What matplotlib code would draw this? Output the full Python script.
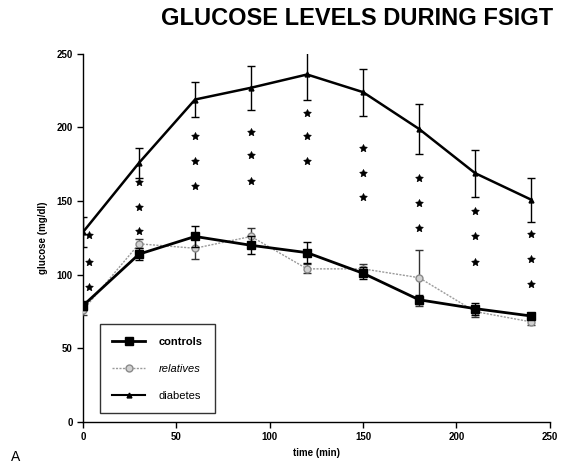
import matplotlib
matplotlib.use("Agg")
import matplotlib.pyplot as plt
from matplotlib.lines import Line2D

plt.rcParams['font.family'] = ['Liberation Sans', 'DejaVu Sans']

time = [0, 30, 60, 90, 120, 150, 180, 210, 240]
controls = [79, 114, 126, 120, 115, 101, 83, 77, 72]
controls_err = [3, 4, 7, 6, 7, 4, 3, 4, 2]
relatives = [76, 121, 118, 126, 104, 104, 98, 75, 68]
relatives_err = [3, 3, 7, 6, 3, 3, 19, 4, 2]
diabetes = [129, 176, 219, 227, 236, 224, 199, 169, 151]
diabetes_err = [10, 10, 12, 15, 17, 16, 17, 16, 15]

star_time = [3, 30, 60, 90, 120, 150, 180, 210, 240]
star_levels = [
    [127, 109, 92],
    [163, 146, 130],
    [194, 177, 160],
    [197, 181, 164],
    [210, 194, 177],
    [186, 169, 153],
    [166, 149, 132],
    [143, 126, 109],
    [128, 111, 94],
]

fig = plt.figure(figsize=(5.61, 4.66), dpi=100)
ax = fig.add_axes([0.148, 0.0944, 0.832, 0.79])

ax.errorbar(time, relatives, yerr=relatives_err, color='#9a9a9a', lw=1.0,
            ls=(0, (1.5, 1)), marker='o', ms=5, mfc='#d0d0d0', mec='#8a8a8a',
            ecolor='#333333', elinewidth=1.0, capsize=3, capthick=1.0, zorder=3)
ax.errorbar(time, controls, yerr=controls_err, color='black', lw=2.0, marker='s',
            ms=5.5, ecolor='black', elinewidth=1.0, capsize=3, capthick=1.0, zorder=4)
ax.errorbar(time, diabetes, yerr=diabetes_err, color='black', lw=1.8, marker='^',
            ms=3.5, ecolor='black', elinewidth=1.0, capsize=3, capthick=1.0, zorder=4)

for t, lv in zip(star_time, star_levels):
    ax.scatter([t] * len(lv), lv, marker=(5, 1, 0), s=34, color='black',
               linewidths=0.4, zorder=5)

ax.set_xlim(0, 250)
ax.set_ylim(0, 250)
ax.set_xticks([0, 50, 100, 150, 200, 250])
ax.set_yticks([0, 50, 100, 150, 200, 250])
for s in ['top', 'right']:
    ax.spines[s].set_visible(False)
for s in ['left', 'bottom']:
    ax.spines[s].set_linewidth(1.0)
ax.tick_params(direction='out', length=4, width=1, labelsize=7)
for lab in ax.get_xticklabels() + ax.get_yticklabels():
    lab.set_fontweight('bold')

ax.set_xlabel('time (min)', fontsize=7, fontweight='bold', labelpad=4)
ax.set_ylabel('glucose (mg/dl)', fontsize=7, fontweight='bold', labelpad=6)

fig.text(0.986, 0.961, 'GLUCOSE LEVELS DURING FSIGT', ha='right', va='center',
         fontsize=17, fontweight='bold')
fig.text(0.02, 0.005, 'A', fontsize=10, ha='left', va='bottom')

handles = [
    Line2D([], [], color='black', lw=2, marker='s', ms=5.5),
    Line2D([], [], color='#9a9a9a', lw=1, ls=(0, (1.5, 1)), marker='o', ms=5,
           mfc='#d0d0d0', mec='#8a8a8a'),
    Line2D([], [], color='black', lw=1.5, marker='^', ms=3.5),
]
leg = ax.legend(handles, ['controls', 'relatives', 'diabetes'],
                loc='lower left', bbox_to_anchor=(0.036, 0.024), frameon=True,
                fancybox=False, edgecolor='black', fontsize=8,
                handlelength=3.0, labelspacing=1.55, borderpad=1.1,
                handletextpad=1.2, borderaxespad=0)
leg.get_frame().set_linewidth(1.0)
leg._legend_box.align = 'left'
texts = leg.get_texts()
texts[0].set_fontweight('bold')
texts[1].set_fontstyle('italic')

fig.savefig('out.png', dpi=100)
